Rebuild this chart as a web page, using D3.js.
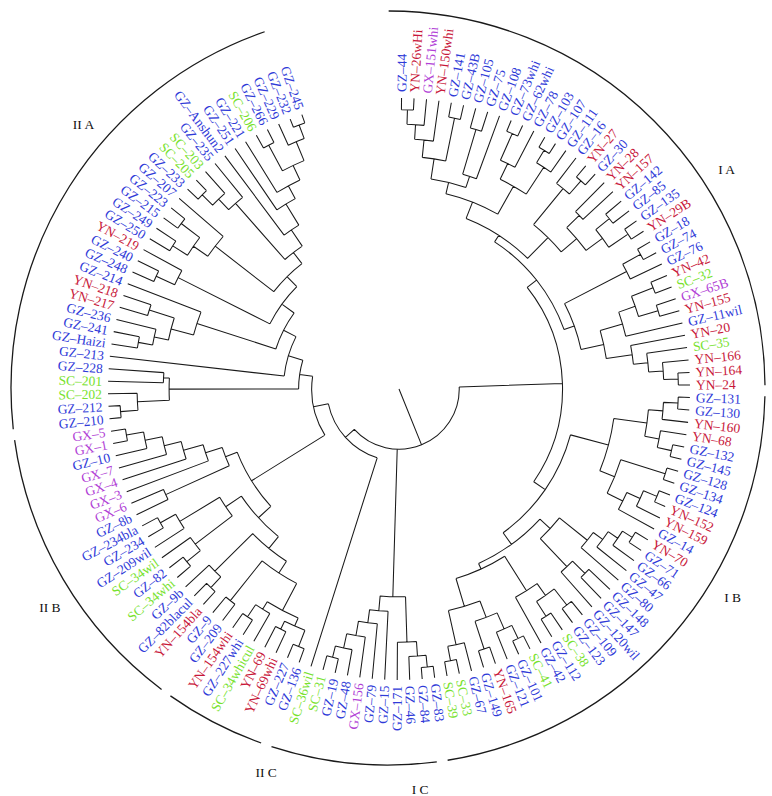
<!DOCTYPE html>
<html><head><meta charset="utf-8">
<script src="https://cdn.jsdelivr.net/npm/d3@7"></script>
<style>body{margin:0;background:#fff}</style>
</head><body><svg id="c" width="772" height="796"></svg>
<script>
// Dendrogram topology (Newick-like); number after ")" = node similarity level (leaves = 100)
const T1 = "((((GZ-44,YN-26wHi)96,GX-151whi)91,YN-150whi)86,(GZ-141,GZ-43B)95)80";
const G105 = "((GZ-105,GZ-75)93,GZ-108)77";
const G73 = "((GZ-73whi,GZ-62whi)96,GZ-78)86";
const G103 = "((GZ-103,GZ-107)96,GZ-111)91";
const IA1a = `((${T1},${G105})73,(${G73},${G103})80)69`;
const IA1b = "((GZ-16,(YN-27,GZ-30)95)89,((YN-28,YN-157)86,((GZ-142,GZ-85)93,(GZ-135,YN-29B)95)87)80)73";
const IA2 = "(((GZ-18,GZ-74)95,GZ-76)88,((((YN-42,SC-32)94,(GX-65B,YN-155)93)86,GZ-11wil)80,(YN-20,(SC-35,(YN-166,(YN-164,YN-24)96)91)86)81)72)64";
const IA = `((${IA1a},${IA1b})63,${IA2})60.3`;
const IBtop = "((((GZ-131,GZ-130)96,YN-160)91,(YN-68,(GZ-132,GZ-145)96)91)86,((GZ-128,GZ-134)96,(((GZ-124,YN-152)96,YN-159)91,GZ-14)86)80)74.5";
const IBx = "(((((YN-70,GZ-71)95,GZ-66)91,GZ-47)87,GZ-80)83,((GZ-148,GZ-147)90,GZ-120wil)84)70.7";
const IBy = "((((GZ-109,GZ-123)94,(SC-38,GZ-112)93)87,GZ-42)82,((((SC-41,GZ-101)95,GZ-121)90,(YN-165,GZ-149)94)84,(GZ-67,(SC-33,SC-39)95)90)78)68";
const IB = `(${IBtop},(${IBx},${IBy})65.9)61`;
const IC = "(((((GZ-83,GZ-84)96,GZ-46)92,GZ-171)87,(GZ-15,(GZ-79,(GX-156,(GZ-48,(GZ-19,SC-31)95)91)86)81)76.5)71.4";
const C1 = "(((GZ-136,GZ-227)95,(YN-69whi,YN-69)92)89,(SC-34whicul,(GZ-227whi,YN-154whi)94)89)86";
const IIBl = `(((${C1},(GZ-209,GZ-9)93)75.5,((YN-154bla,GZ-82blacul)94,GZ-9b)89)70.7,(((SC-34whi,GZ-82)94,SC-34wil)88,(GZ-209wil,(GZ-234,GZ-234bla)94)88)72)65.5`;
const IIBr = "((GZ-8b,GX-6)88,(GX-3,(GX-4,(GX-7,(GZ-10,(GX-1,GX-5)95)89)83)77)70)64";
const IIAlow = "(((GZ-210,GZ-212)96,SC-202)90,(SC-201,GZ-228)81)79";
const Ga = "((((GZ-Haizi,GZ-241)91,GZ-236)86,(YN-217,YN-218)90)81,GZ-214)73";
const Gb = "((GZ-248,GZ-240)92,YN-219)85";
const Gc = "(((GZ-250,GZ-249)92,(GZ-215,GZ-223)94)86,GZ-207)80";
const Gd = "(((GZ-233,SC-205)95,SC-203)90,GZ-235)85";
const Gf = "((SC-206,GZ-266)95,(GZ-229,(GZ-232,GZ-245)97)92)85";
const IIA = `(${IIAlow},(GZ-213,(${Ga},(${Gb},(${Gc},(${Gd},(GZ-Anshun2,(GZ-251,(GZ-221,${Gf})79.5)74.5)66)59.3)54.5)49.7)44.5)39.7)34.5`;
const CL2 = `(SC-36wil,((${IIBl},${IIBr})59.7,${IIA})30)24.8`;
const CL1 = `((${IA},${IB})56.2,${IC})50.7`;
const treeNewick = `(${CL1},${CL2})20.7`;

const prefixes = ["GZ", "YN", "GX", "SC"];
const prefixColors = ["#2f3ad8", "#c8173a", "#b13fd6", "#78e22e"];
const clades = ["I A", "I B", "I C", "II C", "II B", "II A"];
const cladeFirst = ["GZ-44", "GZ-131", "GZ-83", "GZ-136", "GZ-209", "GZ-210"];
const cladeLast = ["YN-24", "SC-39", "SC-36wil", "YN-154whi", "GX-5", "GZ-245"];
const cladeLabelLeaf = ["YN-29B", "YN-70", "GZ-84", "SC-36wil", "GZ-209wil", "GZ-207"];

function parseNewick(s) {
  let i = 0;
  function node() {
    if (s[i] === "(") {
      i++;
      const children = [node()];
      while (s[i] === ",") { i++; children.push(node()); }
      i++;
      let num = "";
      while (i < s.length && /[0-9.]/.test(s[i])) num += s[i++];
      return { children, h: +num };
    }
    let name = "";
    while (i < s.length && !",()".includes(s[i])) name += s[i++];
    return { name, h: 100 };
  }
  return node();
}

const W = 772, H = 796, cx = 399, cy = 389;
const svg = d3.select("#c");
svg.append("rect").attr("width", W).attr("height", H).attr("fill", "#fff");
const g = svg.append("g");

const root = d3.hierarchy(parseNewick(treeNewick));
const leaves = root.leaves();
const angle = d3.scaleLinear().domain([0, leaves.length - 1]).range([-89.5, 250.5]);
const radius = d3.scaleLinear().domain([0, 100]).range([0, 291]);
leaves.forEach((l, k) => { l.a = angle(k); });
root.eachAfter(n => {
  if (n.children) n.a = (n.children[0].a + n.children[n.children.length - 1].a) / 2;
});
const rad = d => d * Math.PI / 180;
const pt = (a, r, ox = cx, oy = cy) => [ox + r * Math.cos(rad(a)), oy + r * Math.sin(rad(a))];

const p = d3.path();
root.each(n => {
  if (n.children) {
    const r = radius(n.data.h);
    const a0 = n.children[0].a, a1 = n.children[n.children.length - 1].a;
    const s = pt(a0, r);
    p.moveTo(s[0], s[1]);
    p.arc(cx, cy, r, rad(a0), rad(a1), false);
  }
  if (n.parent) {
    const s = pt(n.a, radius(n.parent.data.h)), e = pt(n.a, radius(n.data.h));
    p.moveTo(s[0], s[1]); p.lineTo(e[0], e[1]);
  }
});
g.append("path").attr("d", p.toString()).attr("fill", "none")
  .attr("stroke", "#1a1a1a").attr("stroke-width", 1.05);

const colorOf = name => prefixColors[prefixes.indexOf(name.slice(0, 2))];
g.selectAll("text.leaf").data(leaves).join("text")
  .attr("class", "leaf")
  .attr("transform", d => {
    const [x, y] = pt(d.a, 297);
    const flip = d.a > 90 && d.a < 270;
    return `translate(${x},${y}) rotate(${flip ? d.a - 180 : d.a})`;
  })
  .attr("text-anchor", d => (d.a > 90 && d.a < 270) ? "end" : "start")
  .attr("dy", "0.35em")
  .attr("font-family", "'Liberation Serif','Times New Roman',serif")
  .attr("font-size", 13.5)
  .attr("fill", d => colorOf(d.data.name))
  .text(d => d.data.name.replace("-", "\u2013"));

// clade arcs
const byName = new Map(leaves.map(l => [l.data.name, l]));
const ax = cx - 11, ay = cy - 1, aR = 377;
const ap = d3.path();
clades.forEach((c, k) => {
  const a0 = byName.get(cladeFirst[k]).a - 0.4, a1 = byName.get(cladeLast[k]).a + 0.4;
  const s = pt(a0, aR, ax, ay);
  ap.moveTo(s[0], s[1]);
  ap.arc(ax, ay, aR, rad(a0), rad(a1), false);
});
g.append("path").attr("d", ap.toString()).attr("fill", "none")
  .attr("stroke", "#1a1a1a").attr("stroke-width", 1.3);

g.selectAll("text.clade").data(clades).join("text")
  .attr("class", "clade")
  .attr("x", (c, k) => pt(byName.get(cladeLabelLeaf[k]).a, 403, ax, ay)[0])
  .attr("y", (c, k) => pt(byName.get(cladeLabelLeaf[k]).a, 403, ax, ay)[1])
  .attr("text-anchor", "middle").attr("dy", "0.35em")
  .attr("font-family", "'Liberation Serif','Times New Roman',serif")
  .attr("font-size", 13.5).attr("fill", "#111")
  .text(c => c);
</script></body></html>
